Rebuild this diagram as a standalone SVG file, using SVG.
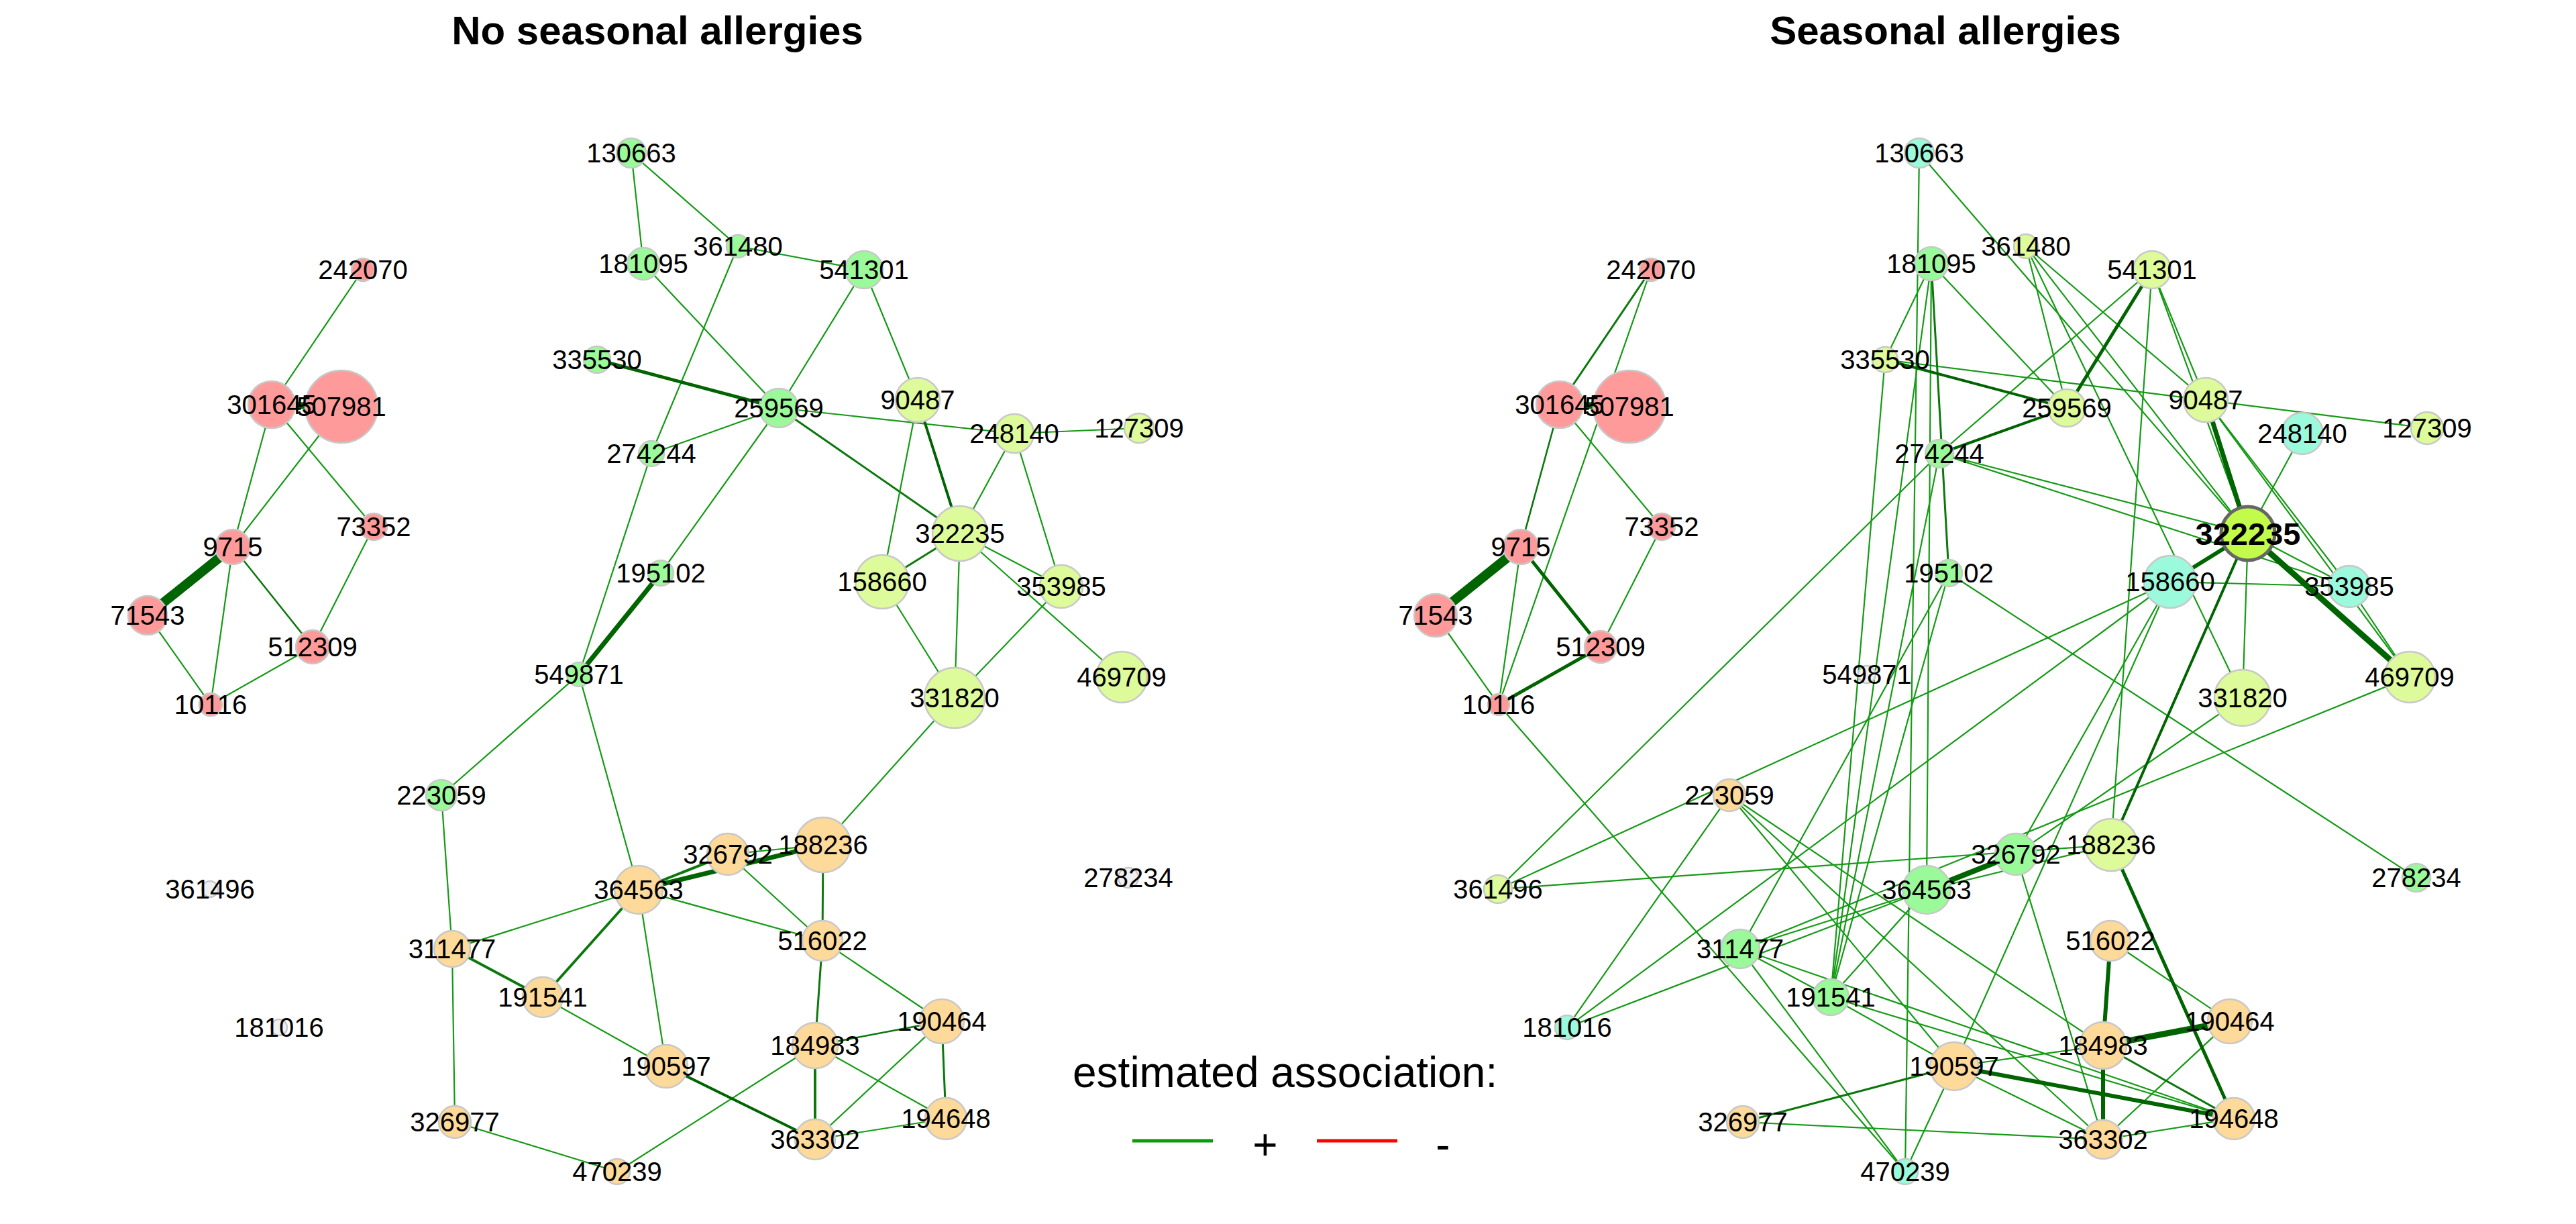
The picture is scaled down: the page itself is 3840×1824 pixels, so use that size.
<svg xmlns="http://www.w3.org/2000/svg" width="3840" height="1824" viewBox="0 0 3840 1824">
<style>
text{font-family:"Liberation Sans",Arial,sans-serif;fill:#000}
.t{font-size:60px;font-weight:bold;text-anchor:middle}
.l{font-size:40px;text-anchor:middle}
.lb{font-size:47px;font-weight:bold;text-anchor:middle}
.lg{font-size:64px}
.e line{stroke:#159A15;stroke-width:2.2;stroke-linecap:round}
.e line.m{stroke:#0C780C}
.e line.k{stroke:#006400}
.e line.w2{stroke-width:2.6}.e line.w3{stroke-width:3}.e line.w4{stroke-width:4}.e line.w5{stroke-width:5}.e line.w6{stroke-width:6}.e line.w7{stroke-width:7}.e line.w8{stroke-width:8}.e line.w9{stroke-width:9}.e line.w10{stroke-width:10}.e line.w14{stroke-width:14;stroke-linecap:butt}
circle{stroke:#C8C8C8;stroke-width:2.5}
.pk{fill:#FF9A9A}.gr{fill:#9AFA9A}.yg{fill:#DDFB9A}.or{fill:#FDD99A}.cy{fill:#9BF9DC}.gy{fill:#F0F0F0}.lm{fill:#C2FB4A;stroke:#666;stroke-width:5}
</style>
<rect width="3840" height="1824" fill="#fff"/>
<text class="t" x="980" y="66">No seasonal allergies</text>
<text class="t" x="2900" y="66">Seasonal allergies</text>

<g id="edges-left" class="e">
<line x1="541" y1="402" x2="405" y2="603"/>
<line x1="405" y1="603" x2="347" y2="815"/>
<line x1="405" y1="603" x2="557" y2="785"/>
<line x1="509" y1="606" x2="347" y2="815"/>
<line x1="347" y1="815" x2="314" y2="1050"/>
<line x1="220" y1="917" x2="314" y2="1050"/>
<line x1="314" y1="1050" x2="466" y2="964"/>
<line x1="557" y1="785" x2="466" y2="964"/>
<line class="m w2" x1="347" y1="815" x2="466" y2="964"/>
<line class="k w14" x1="347" y1="815" x2="220" y2="917"/>
<line class="k w10" x1="405" y1="603" x2="509" y2="606"/>
<line x1="941" y1="228" x2="959" y2="393"/>
<line x1="941" y1="228" x2="1100" y2="367"/>
<line x1="1100" y1="367" x2="1288" y2="402"/>
<line x1="1100" y1="367" x2="971" y2="676"/>
<line x1="959" y1="393" x2="1161" y2="608"/>
<line x1="1288" y1="402" x2="1161" y2="608"/>
<line x1="1288" y1="402" x2="1368" y2="596"/>
<line class="k w5" x1="890" y1="536" x2="1161" y2="608"/>
<line x1="1161" y1="608" x2="971" y2="676"/>
<line x1="1161" y1="608" x2="1512" y2="646"/>
<line class="m w3" x1="1161" y1="608" x2="1431" y2="795"/>
<line x1="1161" y1="608" x2="985" y2="854"/>
<line class="k w4" x1="1368" y1="596" x2="1431" y2="795"/>
<line x1="1368" y1="596" x2="1315" y2="867"/>
<line x1="1512" y1="646" x2="1698" y2="638"/>
<line x1="1512" y1="646" x2="1431" y2="795"/>
<line x1="1512" y1="646" x2="1582" y2="874"/>
<line class="m w3" x1="1431" y1="795" x2="1315" y2="867"/>
<line x1="1431" y1="795" x2="1423" y2="1040"/>
<line x1="1431" y1="795" x2="1582" y2="874"/>
<line x1="1431" y1="795" x2="1672" y2="1009"/>
<line x1="1315" y1="867" x2="1423" y2="1040"/>
<line x1="1582" y1="874" x2="1423" y2="1040"/>
<line class="k w7" x1="985" y1="854" x2="863" y2="1005"/>
<line x1="971" y1="676" x2="863" y2="1005"/>
<line x1="863" y1="1005" x2="658" y2="1185"/>
<line x1="863" y1="1005" x2="952" y2="1326"/>
<line x1="1423" y1="1040" x2="1227" y2="1259"/>
<line x1="658" y1="1185" x2="674" y2="1414"/>
<line class="m w4" x1="952" y1="1326" x2="1085" y2="1273"/>
<line class="k w7" x1="952" y1="1326" x2="1227" y2="1259"/>
<line x1="1085" y1="1273" x2="1227" y2="1259"/>
<line x1="1085" y1="1273" x2="1226" y2="1402"/>
<line x1="952" y1="1326" x2="674" y2="1414"/>
<line class="m w4" x1="952" y1="1326" x2="809" y2="1486"/>
<line x1="952" y1="1326" x2="1226" y2="1402"/>
<line x1="952" y1="1326" x2="993" y2="1589"/>
<line class="m w4" x1="674" y1="1414" x2="809" y2="1486"/>
<line x1="674" y1="1414" x2="678" y2="1672"/>
<line class="m w3" x1="1227" y1="1259" x2="1226" y2="1402"/>
<line class="m w3" x1="1226" y1="1402" x2="1215" y2="1558"/>
<line x1="1226" y1="1402" x2="1404" y2="1522"/>
<line x1="809" y1="1486" x2="993" y2="1589"/>
<line class="m w2" x1="1215" y1="1558" x2="1404" y2="1522"/>
<line class="m w4" x1="1215" y1="1558" x2="1215" y2="1698"/>
<line x1="1215" y1="1558" x2="1410" y2="1667"/>
<line x1="1215" y1="1558" x2="920" y2="1746"/>
<line x1="1404" y1="1522" x2="1215" y2="1698"/>
<line class="m w3" x1="1404" y1="1522" x2="1410" y2="1667"/>
<line class="k w4" x1="993" y1="1589" x2="1215" y2="1698"/>
<line x1="1215" y1="1698" x2="1410" y2="1667"/>
<line x1="678" y1="1672" x2="920" y2="1746"/>
</g>

<g id="edges-right" class="e">
<line class="m w3" x1="2461" y1="402" x2="2325" y2="603"/>
<line x1="2461" y1="402" x2="2234" y2="1050"/>
<line class="m w2" x1="2325" y1="603" x2="2267" y2="815"/>
<line x1="2325" y1="603" x2="2477" y2="785"/>
<line x1="2267" y1="815" x2="2234" y2="1050"/>
<line x1="2140" y1="917" x2="2234" y2="1050"/>
<line x1="2477" y1="785" x2="2386" y2="964"/>
<line x1="2234" y1="1050" x2="2840" y2="1746"/>
<line class="k w5" x1="2267" y1="815" x2="2386" y2="964"/>
<line class="k w5" x1="2386" y1="964" x2="2234" y2="1050"/>
<line class="k w14" x1="2267" y1="815" x2="2140" y2="917"/>
<line class="k w10" x1="2325" y1="603" x2="2429" y2="606"/>
<line x1="2861" y1="228" x2="2840" y2="1746"/>
<line x1="2861" y1="228" x2="3351" y2="795"/>
<line x1="2879" y1="393" x2="2810" y2="536"/>
<line x1="2879" y1="393" x2="3081" y2="608"/>
<line x1="2879" y1="393" x2="2729" y2="1486"/>
<line x1="2879" y1="393" x2="2872" y2="1326"/>
<line x1="3020" y1="367" x2="3081" y2="608"/>
<line x1="3020" y1="367" x2="3288" y2="596"/>
<line x1="3020" y1="367" x2="3351" y2="795"/>
<line x1="3020" y1="367" x2="3343" y2="1040"/>
<line x1="3208" y1="402" x2="2891" y2="676"/>
<line x1="3208" y1="402" x2="3288" y2="596"/>
<line x1="3208" y1="402" x2="3147" y2="1259"/>
<line x1="3208" y1="402" x2="3351" y2="795"/>
<line x1="2810" y1="536" x2="3618" y2="638"/>
<line x1="2810" y1="536" x2="2729" y2="1486"/>
<line x1="2891" y1="676" x2="3351" y2="795"/>
<line x1="2891" y1="676" x2="3502" y2="874"/>
<line x1="2891" y1="676" x2="2233" y2="1325"/>
<line x1="2891" y1="676" x2="2729" y2="1486"/>
<line x1="3288" y1="596" x2="3502" y2="874"/>
<line x1="3288" y1="596" x2="3592" y2="1009"/>
<line x1="3432" y1="646" x2="3351" y2="795"/>
<line x1="3351" y1="795" x2="3502" y2="874"/>
<line x1="3351" y1="795" x2="3343" y2="1040"/>
<line x1="3235" y1="867" x2="3502" y2="874"/>
<line x1="3235" y1="867" x2="2233" y2="1325"/>
<line x1="3235" y1="867" x2="2336" y2="1531"/>
<line x1="3235" y1="867" x2="3005" y2="1273"/>
<line x1="3235" y1="867" x2="2913" y2="1589"/>
<line x1="3502" y1="874" x2="3592" y2="1009"/>
<line x1="2905" y1="854" x2="3602" y2="1308"/>
<line x1="2905" y1="854" x2="2594" y2="1414"/>
<line x1="2905" y1="854" x2="2729" y2="1486"/>
<line x1="3343" y1="1040" x2="3005" y2="1273"/>
<line x1="3592" y1="1009" x2="2594" y2="1414"/>
<line x1="2578" y1="1185" x2="2336" y2="1531"/>
<line x1="2578" y1="1185" x2="3135" y2="1558"/>
<line x1="2578" y1="1185" x2="2913" y2="1589"/>
<line x1="2578" y1="1185" x2="3135" y2="1698"/>
<line x1="2336" y1="1531" x2="2872" y2="1326"/>
<line x1="2594" y1="1414" x2="2872" y2="1326"/>
<line x1="2594" y1="1414" x2="2729" y2="1486"/>
<line x1="2594" y1="1414" x2="3330" y2="1667"/>
<line x1="2594" y1="1414" x2="2840" y2="1746"/>
<line x1="2729" y1="1486" x2="2872" y2="1326"/>
<line x1="2729" y1="1486" x2="2913" y2="1589"/>
<line x1="2729" y1="1486" x2="3330" y2="1667"/>
<line x1="2872" y1="1326" x2="3147" y2="1259"/>
<line x1="2233" y1="1325" x2="3147" y2="1259"/>
<line x1="3005" y1="1273" x2="3135" y2="1698"/>
<line x1="3146" y1="1402" x2="3324" y2="1522"/>
<line x1="3135" y1="1558" x2="2913" y2="1589"/>
<line x1="2913" y1="1589" x2="3135" y2="1698"/>
<line x1="2913" y1="1589" x2="2840" y2="1746"/>
<line x1="3135" y1="1698" x2="3330" y2="1667"/>
<line x1="3135" y1="1698" x2="3324" y2="1522"/>
<line x1="2598" y1="1672" x2="3135" y2="1698"/>
<line class="m w3" x1="2879" y1="393" x2="2905" y2="854"/>
<line class="m w3" x1="3135" y1="1558" x2="3330" y2="1667"/>
<line class="m w3" x1="2913" y1="1589" x2="2598" y2="1672"/>
<line class="k w5" x1="3208" y1="402" x2="3081" y2="608"/>
<line class="k w4" x1="2810" y1="536" x2="3081" y2="608"/>
<line class="k w4" x1="3081" y1="608" x2="2891" y2="676"/>
<line class="k w7" x1="3288" y1="596" x2="3351" y2="795"/>
<line class="k w6" x1="3351" y1="795" x2="3235" y2="867"/>
<line class="k w9" x1="3351" y1="795" x2="3592" y2="1009"/>
<line class="k w4" x1="3351" y1="795" x2="3147" y2="1259"/>
<line class="k w8" x1="2872" y1="1326" x2="3005" y2="1273"/>
<line class="k w5" x1="3147" y1="1259" x2="3330" y2="1667"/>
<line class="k w6" x1="3146" y1="1402" x2="3135" y2="1558"/>
<line class="k w9" x1="3135" y1="1558" x2="3324" y2="1522"/>
<line class="k w6" x1="3135" y1="1558" x2="3135" y2="1698"/>
<line class="k w6" x1="2913" y1="1589" x2="3330" y2="1667"/>
</g>

<g id="nodes-left">
<g id="L507981"><circle class="pk" cx="509" cy="606" r="54"/><text class="l" x="509" y="620">507981</text></g>
<g id="L301645"><circle class="pk" cx="405" cy="603" r="35"/><text class="l" x="405" y="617">301645</text></g>
<g id="L130663"><circle class="gr" cx="941" cy="228" r="22"/><text class="l" x="941" y="242">130663</text></g>
<g id="L361480"><circle class="gr" cx="1100" cy="367" r="17"/><text class="l" x="1100" y="381">361480</text></g>
<g id="L181095"><circle class="gr" cx="959" cy="393" r="24"/><text class="l" x="959" y="407">181095</text></g>
<g id="L541301"><circle class="gr" cx="1288" cy="402" r="28"/><text class="l" x="1288" y="416">541301</text></g>
<g id="L242070"><circle class="pk" cx="541" cy="402" r="17"/><text class="l" x="541" y="416">242070</text></g>
<g id="L335530"><circle class="gr" cx="890" cy="536" r="20"/><text class="l" x="890" y="550">335530</text></g>
<g id="L259569"><circle class="gr" cx="1161" cy="608" r="29"/><text class="l" x="1161" y="622">259569</text></g>
<g id="L90487"><circle class="yg" cx="1368" cy="596" r="33"/><text class="l" x="1368" y="610">90487</text></g>
<g id="L248140"><circle class="yg" cx="1512" cy="646" r="29"/><text class="l" x="1512" y="660">248140</text></g>
<g id="L127309"><circle class="yg" cx="1698" cy="638" r="22"/><text class="l" x="1698" y="652">127309</text></g>
<g id="L274244"><circle class="gr" cx="971" cy="676" r="19"/><text class="l" x="971" y="690">274244</text></g>
<g id="L73352"><circle class="pk" cx="557" cy="785" r="20"/><text class="l" x="557" y="799">73352</text></g>
<g id="L322235"><circle class="yg" cx="1431" cy="795" r="41"/><text class="l" x="1431" y="809">322235</text></g>
<g id="L9715"><circle class="pk" cx="347" cy="815" r="26"/><text class="l" x="347" y="829">9715</text></g>
<g id="L195102"><circle class="gr" cx="985" cy="854" r="19"/><text class="l" x="985" y="868">195102</text></g>
<g id="L158660"><circle class="yg" cx="1315" cy="867" r="40"/><text class="l" x="1315" y="881">158660</text></g>
<g id="L353985"><circle class="yg" cx="1582" cy="874" r="32"/><text class="l" x="1582" y="888">353985</text></g>
<g id="L71543"><circle class="pk" cx="220" cy="917" r="29"/><text class="l" x="220" y="931">71543</text></g>
<g id="L512309"><circle class="pk" cx="466" cy="964" r="25"/><text class="l" x="466" y="978">512309</text></g>
<g id="L549871"><circle class="gr" cx="863" cy="1005" r="18"/><text class="l" x="863" y="1019">549871</text></g>
<g id="L469709"><circle class="yg" cx="1672" cy="1009" r="38"/><text class="l" x="1672" y="1023">469709</text></g>
<g id="L331820"><circle class="yg" cx="1423" cy="1040" r="45"/><text class="l" x="1423" y="1054">331820</text></g>
<g id="L10116"><circle class="pk" cx="314" cy="1050" r="17"/><text class="l" x="314" y="1064">10116</text></g>
<g id="L223059"><circle class="gr" cx="658" cy="1185" r="23"/><text class="l" x="658" y="1199">223059</text></g>
<g id="L188236"><circle class="or" cx="1227" cy="1259" r="41"/><text class="l" x="1227" y="1273">188236</text></g>
<g id="L326792"><circle class="or" cx="1085" cy="1273" r="31"/><text class="l" x="1085" y="1287">326792</text></g>
<g id="L278234"><circle class="gy" cx="1682" cy="1308" r="15"/><text class="l" x="1682" y="1322">278234</text></g>
<g id="L364563"><circle class="or" cx="952" cy="1326" r="36"/><text class="l" x="952" y="1340">364563</text></g>
<g id="L361496"><circle class="gy" cx="313" cy="1325" r="12"/><text class="l" x="313" y="1339">361496</text></g>
<g id="L516022"><circle class="or" cx="1226" cy="1402" r="30"/><text class="l" x="1226" y="1416">516022</text></g>
<g id="L311477"><circle class="or" cx="674" cy="1414" r="27"/><text class="l" x="674" y="1428">311477</text></g>
<g id="L191541"><circle class="or" cx="809" cy="1486" r="30"/><text class="l" x="809" y="1500">191541</text></g>
<g id="L190464"><circle class="or" cx="1404" cy="1522" r="33"/><text class="l" x="1404" y="1536">190464</text></g>
<g id="L181016"><circle class="gy" cx="416" cy="1531" r="12"/><text class="l" x="416" y="1545">181016</text></g>
<g id="L184983"><circle class="or" cx="1215" cy="1558" r="34"/><text class="l" x="1215" y="1572">184983</text></g>
<g id="L190597"><circle class="or" cx="993" cy="1589" r="32"/><text class="l" x="993" y="1603">190597</text></g>
<g id="L194648"><circle class="or" cx="1410" cy="1667" r="31"/><text class="l" x="1410" y="1681">194648</text></g>
<g id="L326977"><circle class="or" cx="678" cy="1672" r="24"/><text class="l" x="678" y="1686">326977</text></g>
<g id="L363302"><circle class="or" cx="1215" cy="1698" r="30"/><text class="l" x="1215" y="1712">363302</text></g>
<g id="L470239"><circle class="or" cx="920" cy="1746" r="19"/><text class="l" x="920" y="1760">470239</text></g>
</g>

<g id="nodes-right">
<g id="R507981"><circle class="pk" cx="2429" cy="606" r="54"/><text class="l" x="2429" y="620">507981</text></g>
<g id="R301645"><circle class="pk" cx="2325" cy="603" r="35"/><text class="l" x="2325" y="617">301645</text></g>
<g id="R130663"><circle class="cy" cx="2861" cy="228" r="22"/><text class="l" x="2861" y="242">130663</text></g>
<g id="R361480"><circle class="yg" cx="3020" cy="367" r="18"/><text class="l" x="3020" y="381">361480</text></g>
<g id="R181095"><circle class="gr" cx="2879" cy="393" r="25"/><text class="l" x="2879" y="407">181095</text></g>
<g id="R541301"><circle class="yg" cx="3208" cy="402" r="28"/><text class="l" x="3208" y="416">541301</text></g>
<g id="R242070"><circle class="pk" cx="2461" cy="402" r="17"/><text class="l" x="2461" y="416">242070</text></g>
<g id="R335530"><circle class="yg" cx="2810" cy="536" r="19"/><text class="l" x="2810" y="550">335530</text></g>
<g id="R259569"><circle class="yg" cx="3081" cy="608" r="28"/><text class="l" x="3081" y="622">259569</text></g>
<g id="R90487"><circle class="yg" cx="3288" cy="596" r="33"/><text class="l" x="3288" y="610">90487</text></g>
<g id="R248140"><circle class="cy" cx="3432" cy="646" r="31"/><text class="l" x="3432" y="660">248140</text></g>
<g id="R127309"><circle class="yg" cx="3618" cy="638" r="24"/><text class="l" x="3618" y="652">127309</text></g>
<g id="R274244"><circle class="gr" cx="2891" cy="676" r="21"/><text class="l" x="2891" y="690">274244</text></g>
<g id="R73352"><circle class="pk" cx="2477" cy="785" r="20"/><text class="l" x="2477" y="799">73352</text></g>
<g id="R9715"><circle class="pk" cx="2267" cy="815" r="26"/><text class="l" x="2267" y="829">9715</text></g>
<g id="R195102"><circle class="gr" cx="2905" cy="854" r="20"/><text class="l" x="2905" y="868">195102</text></g>
<g id="R158660"><circle class="cy" cx="3235" cy="867" r="39"/><text class="l" x="3235" y="881">158660</text></g>
<g id="R353985"><circle class="cy" cx="3502" cy="874" r="31"/><text class="l" x="3502" y="888">353985</text></g>
<g id="R322235"><circle class="lm" cx="3351" cy="795" r="40"/><text class="lb" x="3351" y="812">322235</text></g>
<g id="R71543"><circle class="pk" cx="2140" cy="917" r="32"/><text class="l" x="2140" y="931">71543</text></g>
<g id="R512309"><circle class="pk" cx="2386" cy="964" r="24"/><text class="l" x="2386" y="978">512309</text></g>
<g id="R549871"><circle class="gy" cx="2783" cy="1005" r="13"/><text class="l" x="2783" y="1019">549871</text></g>
<g id="R469709"><circle class="yg" cx="3592" cy="1009" r="38"/><text class="l" x="3592" y="1023">469709</text></g>
<g id="R331820"><circle class="yg" cx="3343" cy="1040" r="42"/><text class="l" x="3343" y="1054">331820</text></g>
<g id="R10116"><circle class="pk" cx="2234" cy="1050" r="16"/><text class="l" x="2234" y="1064">10116</text></g>
<g id="R223059"><circle class="or" cx="2578" cy="1185" r="24"/><text class="l" x="2578" y="1199">223059</text></g>
<g id="R188236"><circle class="yg" cx="3147" cy="1259" r="39"/><text class="l" x="3147" y="1273">188236</text></g>
<g id="R326792"><circle class="gr" cx="3005" cy="1273" r="31"/><text class="l" x="3005" y="1287">326792</text></g>
<g id="R278234"><circle class="gr" cx="3602" cy="1308" r="21"/><text class="l" x="3602" y="1322">278234</text></g>
<g id="R364563"><circle class="gr" cx="2872" cy="1326" r="36"/><text class="l" x="2872" y="1340">364563</text></g>
<g id="R361496"><circle class="yg" cx="2233" cy="1325" r="21"/><text class="l" x="2233" y="1339">361496</text></g>
<g id="R516022"><circle class="or" cx="3146" cy="1402" r="30"/><text class="l" x="3146" y="1416">516022</text></g>
<g id="R311477"><circle class="gr" cx="2594" cy="1414" r="29"/><text class="l" x="2594" y="1428">311477</text></g>
<g id="R191541"><circle class="gr" cx="2729" cy="1486" r="27"/><text class="l" x="2729" y="1500">191541</text></g>
<g id="R190464"><circle class="or" cx="3324" cy="1522" r="33"/><text class="l" x="3324" y="1536">190464</text></g>
<g id="R181016"><circle class="cy" cx="2336" cy="1531" r="18"/><text class="l" x="2336" y="1545">181016</text></g>
<g id="R184983"><circle class="or" cx="3135" cy="1558" r="35"/><text class="l" x="3135" y="1572">184983</text></g>
<g id="R190597"><circle class="or" cx="2913" cy="1589" r="36"/><text class="l" x="2913" y="1603">190597</text></g>
<g id="R194648"><circle class="or" cx="3330" cy="1667" r="31"/><text class="l" x="3330" y="1681">194648</text></g>
<g id="R326977"><circle class="or" cx="2598" cy="1672" r="24"/><text class="l" x="2598" y="1686">326977</text></g>
<g id="R363302"><circle class="or" cx="3135" cy="1698" r="29"/><text class="l" x="3135" y="1712">363302</text></g>
<g id="R470239"><circle class="cy" cx="2840" cy="1746" r="19"/><text class="l" x="2840" y="1760">470239</text></g>
</g>

<g id="legend">
<text class="lg" x="1599" y="1620">estimated association:</text>
<line x1="1688" y1="1700" x2="1808" y2="1700" stroke="#0A9A0A" stroke-width="5"/>
<text class="lg" x="1886" y="1728" text-anchor="middle">+</text>
<line x1="1963" y1="1700" x2="2083" y2="1700" stroke="#FF0000" stroke-width="5"/>
<text class="lg" x="2151" y="1728" text-anchor="middle">-</text>
</g>
</svg>
